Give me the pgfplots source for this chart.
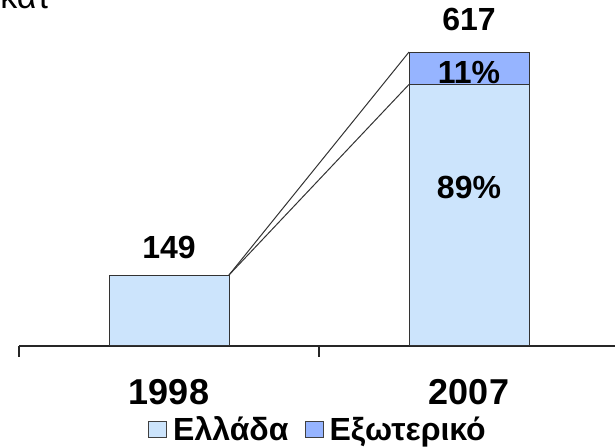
\documentclass[border=0pt]{standalone}
\usepackage{fontspec}
\setmainfont{Liberation Sans}
\usepackage{pgfplots}
\pgfplotsset{compat=1.18}

\definecolor{ellada}{RGB}{204,228,252}
\definecolor{exo}{RGB}{150,180,255}

% shared geometry: 1px of the reference = 0.5pt
\pgfplotsset{base/.style={
    x=150pt, y=0.2382pt,
    xmin=-0.5, xmax=1.5, ymin=0, ymax=700,
    clip=false,
}}

\begin{document}
\begin{tikzpicture}[font=\fontsize{16}{19}\selectfont\bfseries]
\begin{axis}[
    base,
    ybar stacked, bar width=60pt,
    axis x line=bottom, axis y line=none,
    x axis line style={-, line width=1pt, black!85},
    xtick={0,1}, xticklabels={1998,2007},
    major tick length=0pt,
    minor xtick={-0.5,0.5,1.5},
    minor tick length=5.5pt,
    tick align=outside,
    minor tick style={line width=1pt, black!85},
    xticklabel style={inner sep=0pt, anchor=north, yshift=-16.5pt,
        font=\fontsize{18}{21}\selectfont\bfseries},
    legend style={at={(0.5,0)}, anchor=north, yshift=-32pt, draw=none,
        inner sep=1pt, legend columns=2,
        font=\fontsize{16}{19}\selectfont\bfseries,
        /tikz/every odd column/.append style={column sep=1pt},
        /tikz/every even column/.append style={column sep=6pt}},
    legend image code/.code={\draw[#1, draw=black!75, line width=0.5pt]
        (0pt,-4pt) rectangle (9pt,4pt);},
]
\addplot[fill=ellada, draw=black!80, line width=0.5pt]
    coordinates {(0,148) (1,549)};
\addplot[fill=exo, draw=black!80, line width=0.5pt]
    coordinates {(0,1) (1,68)};
\legend{Ελλάδα, Εξωτερικό}
\coordinate (O) at (axis cs:-0.5,0);
\end{axis}

% connecting lines between the bars, and the value labels on top
\begin{axis}[base, hide axis]
\addplot[black!80, line width=0.5pt] coordinates {(0.2,149) (0.8,617)};
\addplot[black!80, line width=0.5pt] coordinates {(0.2,149) (0.8,549)};
\node[anchor=base] at (axis cs:0,149) [yshift=8.5pt] {149};
\node[anchor=base] at (axis cs:1,617) [yshift=11pt] {617};
\node[anchor=base] at (axis cs:1,310) {89\%};
\node[anchor=base] at (axis cs:1,552) {11\%};
\end{axis}

\node[anchor=base east, font=\fontsize{17}{20}\selectfont]
    at ([xshift=19pt, yshift=168.5pt]O) {εκατ};

\pgfresetboundingbox
\path[use as bounding box] ([xshift=-9.5pt, yshift=-51pt]O)
    rectangle ([xshift=298pt, yshift=173pt]O);
\end{tikzpicture}
\end{document}
